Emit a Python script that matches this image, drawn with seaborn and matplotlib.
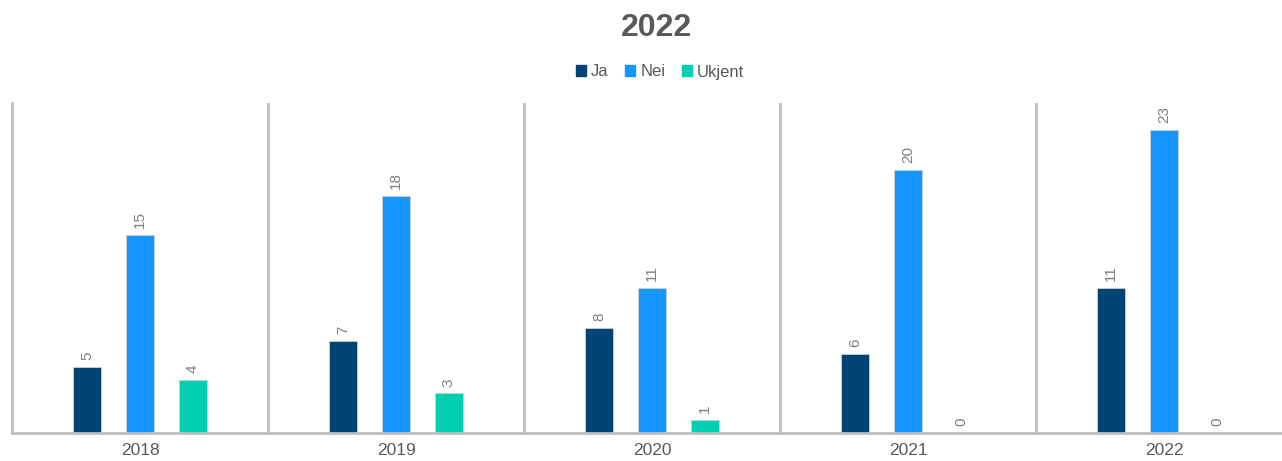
import pandas as pd
import seaborn as sns
import matplotlib
matplotlib.use("Agg")
from matplotlib import pyplot as plt

# Data
years = ["2018", "2019", "2020", "2021", "2022"]
series = ["Ja", "Nei", "Ukjent"]
ja = [5, 7, 8, 6, 11]
nei = [15, 18, 11, 20, 23]
ukjent = [4, 3, 1, 0, 0]
colors = ["#004375", "#1696FF", "#00D0B0"]

df = pd.DataFrame({"year": years * 3,
                   "svar": [s for s in series for _ in years],
                   "antall": ja + nei + ukjent})

sns.set_style("white")
plt.rcParams["font.family"] = ["Liberation Sans", "DejaVu Sans"]

fig = plt.figure(figsize=(12.82, 4.61), dpi=100)
ax = fig.add_axes([12 / 1282, 28 / 461, 1270 / 1282, 330 / 461])

sns.barplot(data=df, x="year", y="antall", hue="svar", palette=colors,
            saturation=1, width=0.62, gap=0.468, edgecolor="#D0D0D0",
            linewidth=0.6, legend=False, ax=ax)

# value labels, rotated like the original
for cont in ax.containers:
    ax.bar_label(cont, rotation=90, padding=5, fontsize=11, color="#7F7F7F")

ax.set_ylim(0, 25.05)
ax.set_xlim(-0.5, -0.5 + 1270 / 256)
ax.set_yticks([])
ax.set_xlabel("")
ax.set_ylabel("")
ax.tick_params(axis="x", length=0, labelsize=12.5, labelcolor="#595959", pad=7)

for side in ["top", "right"]:
    ax.spines[side].set_visible(False)
for side in ["left", "bottom"]:
    ax.spines[side].set_color("#BFBFBF")
    ax.spines[side].set_linewidth(2)
for i in range(len(years) - 1):
    ax.axvline(i + 0.5, color="#BFBFBF", lw=2)

# legend
handles = [plt.Rectangle((0, 0), 1, 1, color=c) for c in colors]
fig.legend(handles, series, loc="center",
           bbox_to_anchor=(0.515, (461 - 72) / 461), ncol=3, frameon=False,
           fontsize=12, handlelength=0.6, handleheight=0.6, handletextpad=0.3,
           columnspacing=1.0, labelcolor="#595959")

fig.text(0.512, (461 - 28) / 461, "2022", ha="center", va="center",
         fontsize=23, fontweight="bold", color="#595959")

plt.savefig("out.png", dpi=100)
